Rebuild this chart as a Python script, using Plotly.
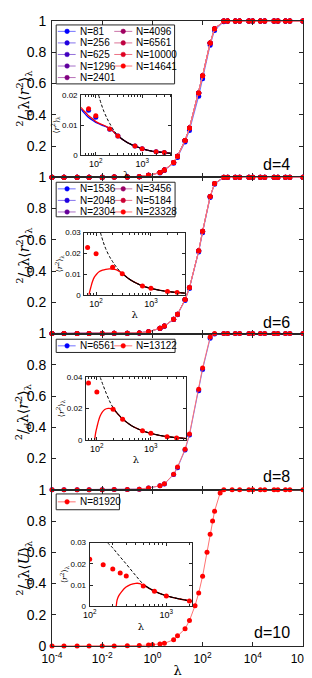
import plotly.graph_objects as go

# ================= DATA =================
# main panels: (2/d) * lambda * <r^2>_lambda versus lambda
lam_main = [1e-4, 3e-4, 1e-3, 3e-3, 1e-2, 3e-2, 0.1, 0.3, 0.7, 2, 3, 7, 10, 20, 30, 70, 100, 200, 300, 700,
            1e3, 2e3, 3e3, 7e3, 1e4, 2e4, 3e4, 7e4, 1e5, 2e5, 3e5, 1e6]
d4_N81 = [0, 0, 0, 0, 0.0004, 0.001, 0.002, 0.004, 0.012, 0.028, 0.043, 0.090, 0.127, 0.225, 0.300, 0.518, 0.630,
          0.845, 0.940, 0.995, 1, 1, 1, 1, 1, 1, 1, 1, 1, 1, 1, 1]
d4_N14641 = [0, 0, 0, 0, 0.0005, 0.001, 0.002, 0.004, 0.013, 0.030, 0.046, 0.095, 0.135, 0.236, 0.315, 0.540, 0.650,
             0.860, 0.950, 1.0, 1, 1, 1, 1, 1, 1, 1, 1, 1, 1, 1, 1]
d6_N1536 = [0, 0, 0, 0, 0.0005, 0.001, 0.002, 0.004, 0.012, 0.032, 0.046, 0.089, 0.120, 0.212, 0.288, 0.522, 0.645,
            0.870, 0.955, 0.998, 1, 1, 1, 1, 1, 1, 1, 1, 1, 1, 1, 1]
d6_N23328 = [0, 0, 0, 0, 0.0005, 0.001, 0.002, 0.004, 0.012, 0.033, 0.048, 0.092, 0.123, 0.217, 0.294, 0.530, 0.654,
             0.877, 0.960, 1.0, 1, 1, 1, 1, 1, 1, 1, 1, 1, 1, 1, 1]
d8_N6561 = [0, 0, 0, 0, 0.0005, 0.001, 0.002, 0.004, 0.011, 0.025, 0.037, 0.097, 0.141, 0.254, 0.350, 0.633, 0.770,
            0.970, 0.997, 1.0, 1, 1, 1, 1, 1, 1, 1, 1, 1, 1, 1, 1]
d8_N13122 = [0, 0, 0, 0, 0.0005, 0.001, 0.002, 0.004, 0.012, 0.025, 0.038, 0.100, 0.145, 0.260, 0.357, 0.643, 0.780,
             0.977, 1.0, 1.0, 1, 1, 1, 1, 1, 1, 1, 1, 1, 1, 1, 1]
lam_d10 = [1e-4, 3e-4, 1e-3, 3e-3, 1e-2, 3e-2, 0.1, 0.3, 0.7, 1, 2, 3, 7, 10, 20, 30, 50, 70, 100, 150, 200, 250,
           300, 500, 700, 1.5e3, 3e3, 7e3, 1e4, 2e4, 3e4, 7e4, 1e5, 2e5, 3e5, 1e6]
d10_N81920 = [0, 0, 0, 0, 0, 0, 0.001, 0.003, 0.006, 0.008, 0.013, 0.017, 0.040, 0.065, 0.110, 0.163, 0.258, 0.340,
              0.447, 0.600, 0.715, 0.800, 0.863, 0.980, 1, 1, 1, 1, 1, 1, 1, 1, 1, 1, 1, 1]

N_d4 = ["81", "256", "625", "1296", "2401", "4096", "6561", "10000", "14641"]
N_d6 = ["1536", "2048", "2304", "3456", "5184", "23328"]
N_d8 = ["6561", "13122"]
N_d10 = ["81920"]

# insets: <r^2>_lambda versus lambda
ins4_lam_dots = [70, 100, 200, 300, 700, 1000, 2000, 3000]
ins4_dots_N14641 = [0.0154, 0.0131, 0.0087, 0.0063, 0.0030, 0.0021, 0.0011, 0.0008]
ins4_dots_N81 = [0.0149, 0.0126, 0.0086, 0.0063, 0.0030, 0.0021, 0.0011, 0.0008]
ins4_lam_curve = [48, 55, 62, 70, 85, 100, 125, 145, 175, 210, 250, 300, 400, 500, 700, 1000, 1500, 2000, 3000, 4300]
ins4_curve_N14641 = [0.0159, 0.0148, 0.0140, 0.0131, 0.0121, 0.0112, 0.0104, 0.0100, 0.0094, 0.0087, 0.0075,
                     0.0063, 0.0049, 0.0040, 0.0030, 0.0021, 0.0014, 0.0011, 0.0008, 0.0005]
ins4_curve_N81 = [0.0154, 0.0142, 0.0133, 0.0125, 0.0116, 0.0109, 0.0102, 0.0098, 0.0093, 0.0087, 0.0075,
                  0.0063, 0.0049, 0.0040, 0.0030, 0.0021, 0.0014, 0.0011, 0.0008, 0.0005]
ins4_lam_asym = [115, 130, 150, 175, 200, 250, 300, 400, 500, 700, 1000, 1500, 2000, 3000, 4300]
ins4_asym = [0.0200, 0.0172, 0.0145, 0.0122, 0.0105, 0.0080, 0.0065, 0.0049, 0.0040, 0.0029, 0.0021, 0.0014,
             0.0011, 0.0008, 0.0005]

ins6_lam_dots = [70, 100, 200, 300, 700, 1000, 2000, 3000]
ins6_dots = [0.0228, 0.0198, 0.0133, 0.0101, 0.0043, 0.0031, 0.0016, 0.0011]
ins6_lam_curve = [74, 80, 86, 93, 101, 115, 131, 150, 174, 200, 229, 260, 309, 400, 500, 700, 1000, 1500, 2000,
                  3000, 4200]
ins6_curve = [0.0, 0.0035, 0.0064, 0.0085, 0.0098, 0.0112, 0.0119, 0.0123, 0.0125, 0.0124, 0.0121, 0.0114, 0.0101,
              0.0076, 0.0061, 0.0043, 0.0031, 0.0021, 0.0016, 0.0011, 0.0008]
ins6_lam_asym = [120, 135, 150, 175, 200, 240, 300, 400, 500, 700, 1000, 1500, 2000, 3000, 4200]
ins6_asym = [0.0300, 0.0255, 0.0222, 0.0185, 0.0160, 0.0130, 0.0102, 0.0076, 0.0061, 0.0043, 0.0031, 0.0021,
             0.0016, 0.0011, 0.0008]

ins8_lam_dots = [70, 100, 200, 300, 700, 1000, 2000, 3000]
ins8_dots = [0.0362, 0.0306, 0.0195, 0.0132, 0.0058, 0.0042, 0.0021, 0.0013]
ins8_lam_curve = [91, 95, 100, 107, 115, 125, 140, 162, 185, 200, 250, 300, 400, 500, 700, 1000, 1500, 2000, 3000,
                  4500]
ins8_curve = [0.0, 0.0045, 0.0079, 0.0120, 0.0152, 0.0176, 0.0194, 0.0201, 0.0199, 0.0195, 0.0162, 0.0133, 0.0100,
              0.0080, 0.0058, 0.0042, 0.0028, 0.0021, 0.0014, 0.0009]
ins8_lam_asym = [115, 130, 150, 175, 200, 250, 300, 400, 500, 700, 1000, 1500, 2000, 3000, 4500]
ins8_asym = [0.0400, 0.0350, 0.0295, 0.0242, 0.0205, 0.0162, 0.0134, 0.0100, 0.0080, 0.0058, 0.0042, 0.0028,
             0.0021, 0.0014, 0.0009]

ins10_lam_dots = [100, 150, 200, 250, 300, 500, 700, 1000, 2000]
ins10_dots = [0.0222, 0.0196, 0.0176, 0.0157, 0.0142, 0.0095, 0.0070, 0.0048, 0.0025]
ins10_lam_curve = [222, 228, 240, 260, 295, 340, 400, 450, 480, 515, 700, 1000, 1500, 2200]
ins10_curve = [0.0, 0.0030, 0.0050, 0.0068, 0.0089, 0.0102, 0.0108, 0.0107, 0.0102, 0.0096, 0.0071, 0.0049,
               0.0034, 0.0023]
ins10_lam_asym = [170, 200, 224, 295, 400, 515, 700, 1000, 1500, 2200]
ins10_asym = [0.0300, 0.0275, 0.0253, 0.0202, 0.0144, 0.0100, 0.0071, 0.0049, 0.0034, 0.0023]

# ================= STYLE / GEOMETRY =================
W, H = 312, 678
ML, MR, MT, MB = 44, 10, 5, 40
PW, PH = W - ML - MR, H - MT - MB


def fx(px):
    return (px - ML) / PW


def fy(py):
    return (H - MB - py) / PH


def col(t, light=0.0):
    r, b = 255 * t, 255 * (1 - t)
    g = 0
    r, g, b = [int(round(c + (255 - c) * light)) for c in (r, g, b)]
    return f"rgb({r},{g},{b})"


AX_COL = "#262626"
FONT = "Liberation Sans, Arial, sans-serif"
SERIF = "DejaVu Serif, Liberation Serif, serif"
LINE_LIGHT = 0.45
NBSP = "\u00a0"

fig = go.Figure()

panels = [
    dict(lam=lam_main, names=N_d4, ts=[i / 8 for i in range(9)],
         vals=[d4_N81] + [d4_N14641] * 8, d="d=4", ylab="⟨<i>r</i><sup>2</sup>⟩<sub>λ</sub>"),
    dict(lam=lam_main, names=N_d6, ts=[0, 0.12, 0.4, 0.6, 0.8, 1],
         vals=[d6_N1536] + [d6_N23328] * 5, d="d=6", ylab="⟨<i>r</i><sup>2</sup>⟩<sub>λ</sub>"),
    dict(lam=lam_main, names=N_d8, ts=[0, 1],
         vals=[d8_N6561, d8_N13122], d="d=8", ylab="⟨<i>r</i><sup>2</sup>⟩<sub>λ</sub>"),
    dict(lam=lam_d10, names=N_d10, ts=[1],
         vals=[d10_N81920], d="d=10", ylab="⟨<i>U</i>⟩<sub>λ</sub>"),
]

for k, p in enumerate(panels):
    sfx = "" if k == 0 else str(k + 1)
    for name, t, v in zip(p["names"], p["ts"], p["vals"]):
        fig.add_trace(go.Scatter(
            x=p["lam"], y=v, mode="lines+markers", name=f"N={name}",
            line=dict(color=col(t, LINE_LIGHT), width=1),
            marker=dict(color=col(t), size=5),
            xaxis="x" + sfx, yaxis="y" + sfx, cliponaxis=False, showlegend=False))

# insets
insets = [
    dict(dots=[(ins4_lam_dots, ins4_dots_N81, 0), (ins4_lam_dots, ins4_dots_N14641, 1)],
         curves=[(ins4_lam_curve, ins4_curve_N81, 0), (ins4_lam_curve, ins4_curve_N14641, 1)],
         asym=(ins4_lam_asym, ins4_asym), solid_from=300),
    dict(dots=[(ins6_lam_dots, ins6_dots, 1)], curves=[(ins6_lam_curve, ins6_curve, 1)],
         asym=(ins6_lam_asym, ins6_asym), solid_from=300),
    dict(dots=[(ins8_lam_dots, ins8_dots, 1)], curves=[(ins8_lam_curve, ins8_curve, 1)],
         asym=(ins8_lam_asym, ins8_asym), solid_from=200),
    dict(dots=[(ins10_lam_dots, ins10_dots, 1)], curves=[(ins10_lam_curve, ins10_curve, 1)],
         asym=(ins10_lam_asym, ins10_asym), solid_from=515),
]
for k, ins in enumerate(insets):
    xa, ya = f"x{k + 5}", f"y{k + 5}"
    for lx, ly, t in ins["curves"]:
        fig.add_trace(go.Scatter(x=lx, y=ly, mode="lines", line=dict(color=col(t), width=1.3, shape="spline"),
                                 xaxis=xa, yaxis=ya, showlegend=False))
    ax_x, ax_y = ins["asym"]
    sx = [x for x in ax_x if x >= ins["solid_from"]]
    sy = [y for x, y in zip(ax_x, ax_y) if x >= ins["solid_from"]]
    fig.add_trace(go.Scatter(x=sx, y=sy, mode="lines", line=dict(color="black", width=1.1, shape="spline"),
                             xaxis=xa, yaxis=ya, showlegend=False))
    fig.add_trace(go.Scatter(x=ax_x, y=ax_y, mode="lines",
                             line=dict(color="black", width=1, dash="3px,2px", shape="spline"),
                             xaxis=xa, yaxis=ya, showlegend=False))
    for lx, ly, t in ins["dots"]:
        fig.add_trace(go.Scatter(x=lx, y=ly, mode="markers", marker=dict(color=col(t), size=5),
                                 xaxis=xa, yaxis=ya, showlegend=False))

# ---------------- axes ----------------
layout = dict(width=W, height=H, margin=dict(l=ML, r=MR, t=MT, b=MB),
              paper_bgcolor="white", plot_bgcolor="white",
              font=dict(family=FONT, size=14, color="black"), showlegend=False)

xt_vals = [1e-4, 1e-2, 1, 1e2, 1e4, 1e6]
xt_text = ["10<sup>-4</sup>", "10<sup>-2</sup>", "10<sup>0</sup>", "10<sup>2</sup>", "10<sup>4</sup>",
           "10<sup>6</sup>" + NBSP * 2]
for k in range(4):
    sfx = "" if k == 0 else str(k + 1)
    y0, y1 = 1 - (k + 1) / 4, 1 - k / 4
    last = k == 3
    layout["xaxis" + sfx] = dict(
        type="log", range=[-4.0005, 6.0005], domain=[0, 1], anchor="y" + sfx,
        tickvals=xt_vals, ticktext=xt_text, showticklabels=last,
        ticks="inside", ticklen=4, tickcolor=AX_COL, showline=True, linecolor=AX_COL, linewidth=1,
        mirror="ticks", showgrid=False, zeroline=False, tickfont=dict(size=12),
        ticklabelstandoff=2, ticklabeloverflow="allow",
        title=dict(text="λ", font=dict(size=13, family=SERIF), standoff=0) if last else None)
    yv = [0, 0.2, 0.4, 0.6, 0.8, 1] if last else [0.2, 0.4, 0.6, 0.8, 1]
    layout["yaxis" + sfx] = dict(
        range=[0, 1], domain=[y0, y1], anchor="x" + sfx,
        tickvals=yv, ticktext=[("%g" % v) for v in yv],
        ticks="inside", ticklen=4, tickcolor=AX_COL, showline=True, linecolor=AX_COL, linewidth=1,
        mirror="ticks", showgrid=False, zeroline=False, tickfont=dict(size=14), ticklabelstandoff=2)

ins_box_x = [(74, 166.7), (77.3, 180.7), (79, 181.7), (82.7, 188.3)]
ins_box_y = [(80, 140.7), (219.3, 282.3), (365.7, 429.3), (533.3, 597.7)]
ins_xrange = [(1.685, 3.63), (1.787, 3.62), (1.80, 3.65), (1.9995, 3.34)]
ins_yticks = [[0, 0.01, 0.02], [0, 0.01, 0.02, 0.03], [0, 0.02, 0.04], [0, 0.01, 0.02, 0.03]]
minor_vals = [m * 10 ** e for e in (1, 2, 3) for m in range(2, 10)]
for k in range(4):
    n = k + 5
    layout[f"xaxis{n}"] = dict(
        type="log", range=list(ins_xrange[k]), domain=[fx(ins_box_x[k][0]), fx(ins_box_x[k][1])],
        anchor=f"y{n}", tickvals=[100, 1000], ticktext=["10<sup>2</sup>", "10<sup>3</sup>"],
        ticks="inside", ticklen=3, tickcolor=AX_COL, showline=True, linecolor=AX_COL, linewidth=1,
        mirror="ticks", showgrid=False, zeroline=False, tickfont=dict(size=9), ticklabelstandoff=0,
        minor=dict(ticks="inside", ticklen=2, tickvals=minor_vals, tickcolor=AX_COL, showgrid=False),
        title=dict(text="λ", font=dict(size=10, family=SERIF), standoff=3))
    yt = ins_yticks[k]
    layout[f"yaxis{n}"] = dict(
        range=[0, yt[-1]], domain=[fy(ins_box_y[k][1]), fy(ins_box_y[k][0])], anchor=f"x{n}",
        tickvals=yt, ticktext=[("%g" % v) for v in yt],
        ticks="inside", ticklen=3, tickcolor=AX_COL, showline=True, linecolor=AX_COL, linewidth=1,
        mirror="ticks", showgrid=False, zeroline=False, tickfont=dict(size=8), ticklabelstandoff=1,
        title=dict(text="⟨<i>r</i><sup>2</sup>⟩<sub>λ</sub>", font=dict(size=8, family=SERIF), standoff=1))

# ---------------- legends (drawn boxes) and labels ----------------
shapes, annotations = [], []
leg_boxes = [(48.3, 9, 170, 68.7), (48.3, 168.3, 170.5, 203.3), (48.3, 327.3, 170.5, 340.7), (48.3, 484, 113.3, 500)]
leg_row0 = [15.5, 175, 334, 492]
leg_rows_per_col = [5, 3, 1, 1]
ROW = 11.7
cols_geom = [(50, 68.3, 59.5, 70.5), (108, 126.5, 117.2, 128.5)]
for k, p in enumerate(panels):
    bx0, by0, bx1, by1 = leg_boxes[k]
    shapes.append(dict(type="rect", xref="paper", yref="paper", x0=fx(bx0), x1=fx(bx1), y0=fy(by1), y1=fy(by0),
                       line=dict(color=AX_COL, width=1), fillcolor="white", layer="above"))
    for j, (name, t) in enumerate(zip(p["names"], p["ts"])):
        c = j // leg_rows_per_col[k]
        r = j % leg_rows_per_col[k]
        lx0, lx1, mx, tx = cols_geom[c]
        yy = leg_row0[k] + r * ROW
        shapes.append(dict(type="line", xref="paper", yref="paper", x0=fx(lx0), x1=fx(lx1), y0=fy(yy), y1=fy(yy),
                           line=dict(color=col(t, LINE_LIGHT), width=1), layer="above"))
        shapes.append(dict(type="circle", xref="paper", yref="paper", xsizemode="pixel", ysizemode="pixel",
                           xanchor=fx(mx), yanchor=fy(yy), x0=-2.3, x1=2.3, y0=-2.3, y1=2.3,
                           line=dict(color=col(t), width=0.5), fillcolor=col(t), layer="above"))
        annotations.append(dict(text=f"N={name}", xref="paper", yref="paper", x=fx(tx), y=fy(yy),
                                xanchor="left", yanchor="middle", showarrow=False,
                                font=dict(size=10, family=FONT)))

d_label_y = [150.7, 310, 466, 624]
panel_centers = [84, 243, 401.5, 559]
for k, p in enumerate(panels):
    annotations.append(dict(text=p["d"], xref="paper", yref="paper", x=fx(291), y=fy(d_label_y[k]),
                            xanchor="right", yanchor="middle", showarrow=False, font=dict(size=16, family=FONT)))
    annotations.append(dict(text="<sup>2</sup>/<sub><i>d</i></sub>λ" + p["ylab"], xref="paper", yref="paper",
                            x=fx(15), y=fy(panel_centers[k]), xanchor="center", yanchor="middle", textangle=-90,
                            showarrow=False, font=dict(size=14, family=SERIF)))

layout["shapes"] = shapes
layout["annotations"] = annotations
fig.update_layout(**layout)
fig.write_html("out.html")
